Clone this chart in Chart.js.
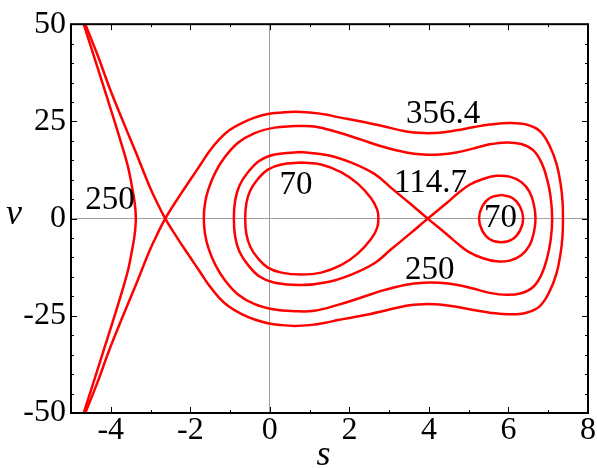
<!DOCTYPE html>
<html>
<head>
<meta charset="utf-8">
<script src="https://cdn.jsdelivr.net/npm/chart.js@4/dist/chart.umd.min.js"></script>
<style>
  html, body { margin: 0; padding: 0; background: #fff; }
  #phase { display: block; }
</style>
</head>
<body>
<canvas id="phase" width="597" height="468"></canvas>
<script>
// level 70, loop around left minimum
var loop70a = [
  [0.79, 14.4], [1.29, 13.9], [1.80, 11.9], [2.21, 9.0], [2.55, 5.2], [2.70, 2.3],
  [2.73, 0], [2.70, -2.3], [2.55, -5.2], [2.21, -9.0], [1.80, -11.9], [1.29, -13.9],
  [0.79, -14.4], [0.29, -13.9], [-0.05, -12.6], [-0.30, -10.2], [-0.49, -7.3],
  [-0.59, -3.95], [-0.62, 0], [-0.59, 3.95], [-0.49, 7.3], [-0.30, 10.2],
  [-0.05, 12.6], [0.29, 13.9], [0.79, 14.4]
];

// level 70, loop around right minimum
var loop70b = [
  [5.82, 6.1], [6.10, 5.3], [6.29, 3.1], [6.37, 0], [6.29, -3.1], [6.10, -5.3],
  [5.82, -6.1], [5.53, -5.3], [5.34, -3.1], [5.26, 0], [5.34, 3.1], [5.53, 5.3],
  [5.82, 6.1]
];

// level 114.7, figure eight through the saddle at s=4
var sep114 = [
  [0.79, 17.1], [1.46, 16.3], [2.05, 14.4], [2.63, 11.5], [3.05, 7.9], [3.51, 4.0],
  [3.97, 0], [4.44, -3.95], [4.73, -6.5], [5.02, -8.7], [5.36, -10.2], [5.70, -11.0],
  [6.03, -10.8], [6.32, -9.4], [6.53, -6.9], [6.64, -3.5], [6.68, 0], [6.64, 3.5],
  [6.53, 6.9], [6.32, 9.4], [6.03, 10.8], [5.70, 11.0], [5.36, 10.2], [5.02, 8.7],
  [4.73, 6.5], [4.44, 3.95], [3.97, 0], [3.51, -4.0], [3.05, -7.9], [2.63, -11.5],
  [2.05, -14.4], [1.46, -16.3], [0.79, -17.1], [0.12, -16.5], [-0.26, -14.9],
  [-0.55, -11.9], [-0.76, -8.6], [-0.87, -4.8], [-0.905, 0], [-0.87, 4.8],
  [-0.76, 8.6], [-0.55, 11.9], [-0.26, 14.9], [0.12, 16.5], [0.79, 17.1]
];

// level 250, closed curve around both wells
var loop250 = [
  [0.62, 23.8], [1.12, 23.7], [1.71, 22.2], [2.30, 20.3], [2.80, 18.6], [3.43, 17.0],
  [3.86, 16.5], [4.27, 16.5], [4.69, 17.0], [5.11, 18.0], [5.53, 19.1], [5.95, 19.6],
  [6.32, 19.2], [6.62, 17.6], [6.83, 14.4], [6.97, 10.2], [7.06, 5.6], [7.10, 0],
  [7.06, -5.6], [6.97, -10.2], [6.83, -14.4], [6.62, -17.6], [6.32, -19.2],
  [5.95, -19.6], [5.53, -19.1], [5.11, -18.0], [4.69, -17.0], [4.27, -16.5],
  [3.86, -16.5], [3.43, -17.0], [2.80, -18.6], [2.30, -20.3], [1.71, -22.2],
  [1.12, -23.7], [0.62, -23.8], [0.12, -23.4], [-0.38, -22.0], [-0.80, -19.5],
  [-1.14, -15.7], [-1.37, -11.9], [-1.54, -7.7], [-1.63, -3.95], [-1.66, 0],
  [-1.63, 3.95], [-1.54, 7.7], [-1.37, 11.9], [-1.14, 15.7], [-0.80, 19.5],
  [-0.38, 22.0], [0.12, 23.4], [0.62, 23.8]
];

// level 250, open branch left of the saddle
var left250 = [
  [-4.68, 50], [-4.43, 42.0], [-4.17, 33.6], [-3.91, 25.2], [-3.66, 16.8],
  [-3.55, 12.6], [-3.47, 8.4], [-3.40, 4.2], [-3.37, 0], [-3.40, -4.2],
  [-3.47, -8.4], [-3.55, -12.6], [-3.66, -16.8], [-3.91, -25.2], [-4.17, -33.6],
  [-4.43, -42.0], [-4.68, -50]
];

// level 356.4, separatrix of the left saddle
var sep356 = [
  [-4.64, 50], [-4.33, 42.0], [-4.03, 33.6], [-3.70, 25.2], [-3.36, 16.8],
  [-3.03, 8.4], [-2.84, 4.2], [-2.63, 0], [-2.30, -5.4], [-2.00, -10.0],
  [-1.75, -13.8], [-1.52, -17.3], [-1.28, -20.3], [-1.02, -22.7], [-0.72, -24.5],
  [-0.40, -25.9], [-0.05, -26.9], [0.30, -27.4], [0.62, -27.6], [1.00, -27.4],
  [1.40, -26.8], [1.71, -26.1], [2.30, -25.0], [2.80, -23.9], [3.43, -22.4],
  [3.86, -22.0], [4.27, -22.1], [4.69, -22.7], [5.11, -23.5], [5.53, -24.2],
  [6.03, -24.6], [6.45, -24.2], [6.79, -22.5], [7.04, -18.6], [7.21, -14.0],
  [7.31, -9.0], [7.36, -4.4], [7.37, 0], [7.36, 4.4], [7.31, 9.0], [7.21, 14.0],
  [7.04, 18.6], [6.79, 22.5], [6.45, 24.2], [6.03, 24.6], [5.53, 24.2], [5.11, 23.5],
  [4.69, 22.7], [4.27, 22.1], [3.86, 22.0], [3.43, 22.4], [2.80, 23.9], [2.30, 25.0],
  [1.71, 26.1], [1.40, 26.8], [1.00, 27.3], [0.62, 27.5], [0.30, 27.3], [-0.05, 26.9],
  [-0.40, 25.9], [-0.72, 24.5], [-1.02, 22.7], [-1.28, 20.3], [-1.52, 17.3],
  [-1.75, 13.8], [-2.00, 10.0], [-2.30, 5.4], [-2.63, 0], [-2.84, -4.2], [-3.03, -8.4],
  [-3.36, -16.8], [-3.70, -25.2], [-4.03, -33.6], [-4.33, -42.0], [-4.64, -50]
];

// contour labels
var labelText = ["250", "70", "114.7", "356.4", "70", "250"];
var labelS = [-4.02, 0.66, 4.04, 4.36, 5.80, 4.02];
var labelV = [4.4, 8.3, 8.9, 26.7, 0, -13.5];

// ticks
var xTicks = [-4, -2, 0, 2, 4, 6, 8];
var yTicks = [-50, -25, 0, 25, 50];
var xMinor = [-5, -3, -1, 1, 3, 5, 7];
var yMinor = [-45, -40, -35, -30, -20, -15, -10, -5, 5, 10, 15, 20, 30, 35, 40, 45];

var serif = "'Liberation Serif', 'Times New Roman', serif";

function pts(arr) {
  return arr.map(function (p) {
    return { x: p[0], y: p[1] };
  });
}

function curve(arr) {
  return {
    data: pts(arr),
    borderColor: "#ff0000",
    borderWidth: 2.5,
    pointRadius: 0,
    tension: 0.4,
    fill: false,
  };
}

// frame, inward ticks, contour labels and axis titles
var framePlugin = {
  id: "frame",
  afterDraw: function (chart) {
    var ctx = chart.ctx;
    var a = chart.chartArea;
    var xs = chart.scales.x;
    var ys = chart.scales.y;
    ctx.save();

    ctx.strokeStyle = "#000";
    ctx.lineWidth = 1;
    function tickX(v, len) {
      var px = Math.round(xs.getPixelForValue(v)) + 0.5;
      ctx.beginPath();
      ctx.moveTo(px, a.bottom);
      ctx.lineTo(px, a.bottom - len);
      ctx.moveTo(px, a.top);
      ctx.lineTo(px, a.top + len);
      ctx.stroke();
    }
    function tickY(v, len) {
      var py = Math.round(ys.getPixelForValue(v)) + 0.5;
      ctx.beginPath();
      ctx.moveTo(a.left, py);
      ctx.lineTo(a.left + len, py);
      ctx.moveTo(a.right, py);
      ctx.lineTo(a.right - len, py);
      ctx.stroke();
    }
    xTicks.forEach(function (v) { tickX(v, 6); });
    xMinor.forEach(function (v) { tickX(v, 3); });
    yTicks.forEach(function (v) { tickY(v, 6); });
    yMinor.forEach(function (v) { tickY(v, 3); });

    ctx.lineWidth = 2;
    ctx.strokeRect(a.left, a.top, a.right - a.left, a.bottom - a.top);

    // contour values
    ctx.fillStyle = "#000";
    ctx.font = "33px " + serif;
    ctx.textAlign = "center";
    ctx.textBaseline = "alphabetic";
    for (var i = 0; i < labelText.length; i++) {
      var lx = xs.getPixelForValue(labelS[i]);
      var ly = ys.getPixelForValue(labelV[i]);
      ctx.fillText(labelText[i], lx, ly + 8);
    }

    // axis titles
    ctx.font = "italic 36px " + serif;
    ctx.fillText("s", (a.left + a.right) / 2 - 6, 465);
    ctx.fillText("v", 14, (a.top + a.bottom) / 2 + 5);

    ctx.restore();
  },
};

var ctx = document.getElementById("phase").getContext("2d");

var phase = new Chart(ctx, {
  type: "line",
  data: {
    datasets: [
      curve(loop70a),
      curve(loop70b),
      curve(sep114),
      curve(loop250),
      curve(left250),
      curve(sep356),
    ],
  },
  options: {
    responsive: false,
    animation: false,
    elements: {
      line: { tension: 0.4, capBezierPoints: false },
    },
    layout: {
      padding: { top: 16, right: 9, left: 0, bottom: 0 },
    },
    plugins: {
      legend: { display: false },
      tooltip: { enabled: false },
    },
    scales: {
      x: {
        type: "linear",
        min: -5,
        max: 8,
        afterBuildTicks: function (scale) {
          scale.ticks = xTicks.map(function (v) { return { value: v }; });
        },
        afterFit: function (scale) {
          scale.height = 55;
        },
        ticks: {
          color: "#000",
          padding: -2,
          maxRotation: 0,
          font: { family: serif, size: 32 },
          callback: function (v) { return String(v); },
        },
        grid: {
          drawTicks: false,
          color: function (c) {
            return c.tick && c.tick.value === 0 ? "#a0a0a0" : "rgba(0,0,0,0)";
          },
        },
        border: { display: false },
      },
      y: {
        type: "linear",
        min: -50,
        max: 50,
        afterBuildTicks: function (scale) {
          scale.ticks = yTicks.map(function (v) { return { value: v }; });
        },
        afterFit: function (scale) {
          scale.width = 71;
        },
        ticks: {
          color: "#000",
          padding: 5,
          font: { family: serif, size: 32 },
          callback: function (v) { return String(v); },
        },
        grid: {
          drawTicks: false,
          color: function (c) {
            return c.tick && c.tick.value === 0 ? "#a0a0a0" : "rgba(0,0,0,0)";
          },
        },
        border: { display: false },
      },
    },
  },
  plugins: [framePlugin],
});
</script>
</body>
</html>
